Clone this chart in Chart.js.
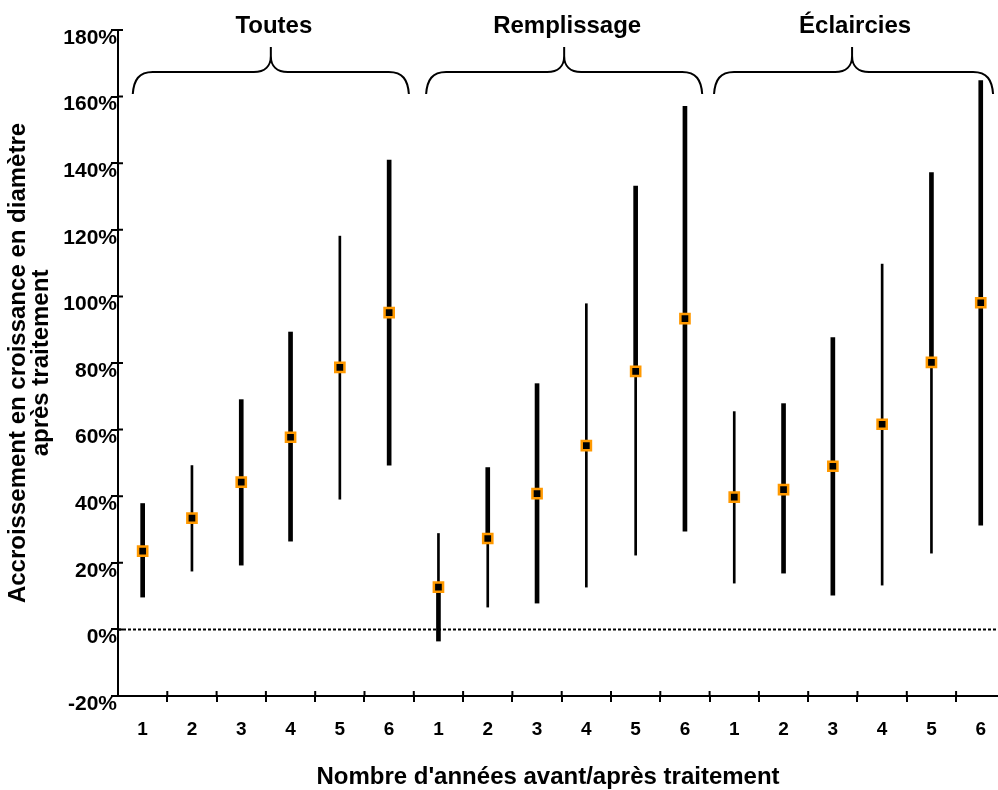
<!DOCTYPE html>
<html>
<head>
<meta charset="utf-8">
<script src="https://cdn.jsdelivr.net/npm/chart.js@4.4.1/dist/chart.umd.min.js"></script>
<style>
  html, body { margin: 0; padding: 0; background: #fff; overflow: hidden; }
  #wrap { width: 998px; height: 790px; }
</style>
</head>
<body>
<div id="wrap"><canvas id="chart" width="998" height="790"></canvas></div>
<script>
// groups / categories
const groups = ['Toutes', 'Remplissage', 'Éclaircies'];
const years = ['1', '2', '3', '4', '5', '6'];
const tickLabels = groups.flatMap(() => years);

// accroissement moyen et bornes (%), 6 années x 3 groupes
const means = [23.5, 33.4, 44.2, 57.7, 78.7, 95.1,
               12.7, 27.3, 40.8, 55.2, 77.5, 93.3,
               39.7, 42.0, 49.0, 61.6, 80.2, 98.1];
const lows  = [ 9.7, 17.5, 19.3, 26.5, 39.1, 49.3,
               -3.5,  6.7,  7.9, 12.7, 22.3, 29.5,
               13.9, 16.9, 10.3, 13.3, 22.9, 31.3];
const highs = [37.8, 49.2, 69.0, 89.3, 118.1, 140.9,
               28.8, 48.6, 73.8, 97.8, 133.1, 157.1,
               65.4, 67.8, 87.6, 109.7, 137.2, 164.8];

// line style of each half bar (1 = thick, 0 = thin)
const upperThick = [1, 0, 1, 1, 0, 1,  0, 1, 1, 0, 1, 1,  0, 1, 1, 0, 1, 1];
const lowerThick = [1, 0, 1, 1, 0, 1,  1, 0, 1, 0, 0, 1,  0, 1, 1, 0, 0, 1];

// brace annotations (x in category units)
const braceFrom = [0.8, 6.75, 12.59];
const braceTo   = [6.4, 12.35, 18.25];
const braceTip  = [3.6, 9.55, 15.39];

const FONT = '"Liberation Sans", Arial, sans-serif';
const ORANGE = '#FF9900';

function halfBars(part, thick) {
    const flags = part === 'up' ? upperThick : lowerThick;
    const out = [];
    means.forEach((m, i) => {
        if (!!flags[i] !== thick) return;
        out.push({ x: i + 1, y: part === 'up' ? [m, highs[i]] : [lows[i], m] });
    });
    return out;
}

function barSet(part, thick) {
    return {
        type: 'bar',
        data: halfBars(part, thick),
        backgroundColor: '#000',
        borderWidth: 0,
        barThickness: thick ? 4 : 2,
        grouped: false,
        order: 1
    };
}

// dotted zero line, inner tick halves, braces and group titles
const decor = {
    id: 'decor',
    beforeDatasetsDraw(chart) {
        const { ctx, chartArea, scales: { y } } = chart;
        const y0 = Math.round(y.getPixelForValue(0)) + 0.5;
        ctx.save();
        ctx.strokeStyle = '#000';
        ctx.lineWidth = 2;
        ctx.setLineDash([3, 2]);
        ctx.beginPath();
        ctx.moveTo(chartArea.left, y0);
        ctx.lineTo(chartArea.right, y0);
        ctx.stroke();
        ctx.restore();
    },
    afterDraw(chart) {
        const { ctx, chartArea, scales: { x, y } } = chart;
        ctx.save();
        ctx.strokeStyle = '#000';
        ctx.lineWidth = 2;
        // tick stubs inside plot
        ctx.beginPath();
        for (let v = -20; v <= 180; v += 20) {
            const py = y.getPixelForValue(v);
            ctx.moveTo(chartArea.left, py);
            ctx.lineTo(chartArea.left + 5, py);
        }
        for (let k = 1; k < tickLabels.length; k++) {
            const px = x.getPixelForValue(k + 0.5);
            ctx.moveTo(px, chartArea.bottom);
            ctx.lineTo(px, chartArea.bottom - 5);
        }
        ctx.stroke();

        // braces
        const yLine = chartArea.top + 42, yEnd = chartArea.top + 64, yTip = chartArea.top + 17;
        groups.forEach((g, i) => {
            const x0 = x.getPixelForValue(braceFrom[i]);
            const x1 = x.getPixelForValue(braceTo[i]);
            const xt = x.getPixelForValue(braceTip[i]);
            ctx.beginPath();
            ctx.moveTo(x0, yEnd);
            ctx.bezierCurveTo(x0 + 1, yLine + 8, x0 + 6, yLine, x0 + 20, yLine);
            ctx.lineTo(xt - 17, yLine);
            ctx.bezierCurveTo(xt - 6, yLine, xt, yLine - 6, xt, yLine - 16);
            ctx.lineTo(xt, yTip);
            ctx.moveTo(xt, yLine - 16);
            ctx.bezierCurveTo(xt, yLine - 6, xt + 6, yLine, xt + 17, yLine);
            ctx.lineTo(x1 - 20, yLine);
            ctx.bezierCurveTo(x1 - 6, yLine, x1 - 1, yLine + 8, x1, yEnd);
            ctx.stroke();

            ctx.fillStyle = '#000';
            ctx.font = 'bold 24px ' + FONT;
            ctx.textAlign = 'center';
            ctx.textBaseline = 'alphabetic';
            ctx.fillText(g, xt + 3, chartArea.top + 3);
        });
        ctx.restore();
    }
};

const ctx = document.getElementById('chart').getContext('2d');
new Chart(ctx, {
    data: {
        datasets: [
            barSet('up', true), barSet('up', false),
            barSet('down', true), barSet('down', false),
            {
                type: 'line',
                data: means.map((m, i) => ({ x: i + 1, y: m })),
                showLine: false,
                pointStyle: 'rect',
                pointRadius: 6.5,
                pointBorderWidth: 2.5,
                pointBackgroundColor: '#000',
                pointBorderColor: ORANGE,
                clip: false,
                order: 0
            }
        ]
    },
    options: {
        responsive: false,
        animation: false,
        layout: { autoPadding: false, padding: { top: 30, right: 0, bottom: 0, left: 0 } },
        plugins: { legend: { display: false }, tooltip: { enabled: false } },
        scales: {
            x: {
                type: 'linear',
                offset: false,
                min: 0.5,
                max: 18.35,
                afterBuildTicks: s => {
                    const t = [];
                    for (let k = 1; k <= tickLabels.length; k++) {
                        t.push({ value: k });
                        if (k < tickLabels.length) t.push({ value: k + 0.5 });
                    }
                    s.ticks = t;
                },
                afterFit: s => { s.height = 94; s.paddingLeft = 0; s.paddingRight = 0; },
                grid: {
                    offset: false,
                    drawOnChartArea: false,
                    tickLength: 6,
                    lineWidth: 2,
                    color: c => (c.tick && c.tick.value % 1 !== 0) ? '#000' : 'rgba(0,0,0,0)'
                },
                border: { color: '#000', width: 2 },
                ticks: {
                    autoSkip: false,
                    maxRotation: 0,
                    padding: 16,
                    color: '#000',
                    font: { family: FONT, size: 19, weight: 'bold' },
                    callback: v => (v % 1 === 0 ? tickLabels[v - 1] : '')
                },
                title: {
                    display: true,
                    // trailing spaces nudge the centred title a little to the left
                    text: "Nombre d'années avant/après traitement   ",
                    color: '#000',
                    font: { family: FONT, size: 24, weight: 'bold', lineHeight: '26px' },
                    padding: 0
                }
            },
            y: {
                min: -20,
                max: 180,
                afterFit: s => { s.width = 118; },
                grid: { drawOnChartArea: false, tickLength: 7, lineWidth: 2, color: '#000' },
                border: { color: '#000', width: 2 },
                ticks: {
                    stepSize: 20,
                    padding: -6,
                    labelOffset: 8,
                    color: '#000',
                    font: { family: FONT, size: 21, weight: 'bold' },
                    callback: v => v + '%'
                },
                title: {
                    display: true,
                    text: ['Accroissement en croissance en diamètre', 'après traitement'],
                    color: '#000',
                    font: { family: FONT, size: 24, weight: 'bold', lineHeight: '23px' },
                    padding: { top: 7, bottom: 0 }
                }
            }
        }
    },
    plugins: [decor]
});
</script>
</body>
</html>
